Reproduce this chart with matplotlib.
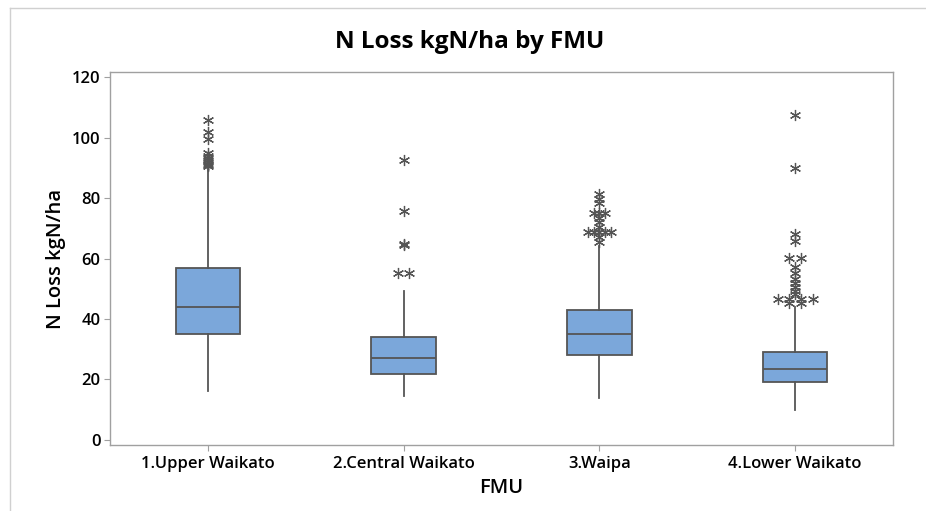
import matplotlib
matplotlib.use("Agg")
import matplotlib.pyplot as plt
from matplotlib.lines import Line2D
import numpy as np

# ---- data ----
categories = ["1.Upper Waikato", "2.Central Waikato", "3.Waipa", "4.Lower Waikato"]
q1 = [35.0, 21.9, 28.1, 19.3]
median = [44.0, 27.2, 35.0, 23.4]
q3 = [57.0, 34.1, 43.0, 29.0]
whisker_low = [16.2, 14.6, 13.8, 9.9]
whisker_high = [89.9, 49.3, 64.2, 44.1]

# outliers: value and how many tied points at that value
out1_vals = [106.0, 101.9, 99.5, 95.0, 94.0, 93.2, 92.5, 92.0, 91.5, 91.0, 90.6]
out1_cnt = [1, 1, 1, 1, 1, 1, 1, 1, 1, 1, 1]
out2_vals = [92.8, 75.9, 65.0, 64.4, 55.4]
out2_cnt = [1, 1, 1, 1, 2]
out3_vals = [81.3, 79.9, 78.5, 75.1, 73.6, 72.2, 70.5, 68.9, 67.2, 65.6]
out3_cnt = [1, 1, 1, 3, 1, 1, 1, 5, 1, 1]
out4_vals = [107.7, 90.0, 68.3, 66.0, 60.1, 57.3, 55.1, 53.4, 52.0, 50.5, 49.4, 48.2, 46.8, 45.2]
out4_cnt = [1, 1, 1, 1, 2, 1, 1, 1, 1, 1, 1, 1, 4, 2]

yticks = [0, 20, 40, 60, 80, 100, 120]

title = "N Loss kgN/ha by FMU"
xlabel = "FMU"
ylabel = "N Loss kgN/ha"

# ---- style ----
FONT = ["Open Sans", "DejaVu Sans"]
plt.rcParams["font.family"] = FONT
box_face = "#7BA7DA"
edge = "#555555"

fig = plt.figure(figsize=(9.26, 5.11), dpi=100)
ax = fig.add_axes([110 / 926, 1 - 445 / 511, (893 - 110) / 926, (445 - 72) / 511])

stats = []
for i, c in enumerate(categories):
    stats.append(dict(label=c, q1=q1[i], med=median[i], q3=q3[i],
                      whislo=whisker_low[i], whishi=whisker_high[i], fliers=[]))

positions = np.arange(1, len(categories) + 1)
ax.bxp(stats, positions=positions, widths=0.33, patch_artist=True,
       showcaps=False, showfliers=False,
       boxprops=dict(facecolor=box_face, edgecolor=edge, linewidth=1.3),
       medianprops=dict(color=edge, linewidth=1.3),
       whiskerprops=dict(color=edge, linewidth=1.3))

step = 0.03
for pos, vals, cnts in zip(positions,
                           [out1_vals, out2_vals, out3_vals, out4_vals],
                           [out1_cnt, out2_cnt, out3_cnt, out4_cnt]):
    xs, ys = [], []
    for v, n in zip(vals, cnts):
        sp = step if n % 2 == 1 else 2 * step
        for k in range(n):
            xs.append(pos + (k - (n - 1) / 2) * sp)
            ys.append(v)
    ax.plot(xs, ys, linestyle="none", marker=(6, 2, 0), markersize=8,
            markeredgewidth=0.9, color=edge)

ax.set_xlim(0.5, 4.5)
ax.set_ylim(-1.7, 121.8)
ax.set_yticks(yticks)
ax.set_xticks(positions)
ax.set_xticklabels(categories)

for s in ax.spines.values():
    s.set_color("#A0A0A0")
    s.set_linewidth(1.0)
ax.tick_params(axis="both", direction="out", length=4, width=0.8, color="#A0A0A0",
               labelsize=12, labelcolor="black")
for lab in ax.get_xticklabels() + ax.get_yticklabels():
    lab.set_fontweight("semibold")
ax.tick_params(axis="x", pad=4)
ax.tick_params(axis="y", pad=3)

ax.set_xlabel(xlabel, fontsize=14.5, fontweight="semibold", labelpad=4)
ax.set_ylabel(ylabel, fontsize=14.5, fontweight="semibold", labelpad=4)
fig.text(470 / 926, 1 - 42 / 511, title, ha="center", va="center",
         fontsize=17.5, fontweight="bold")

# figure frame lines (top and left)
fig.add_artist(Line2D([10 / 926, 1.0], [1 - 8 / 511, 1 - 8 / 511],
                      transform=fig.transFigure, color="#D0D0D0", linewidth=1.0))
fig.add_artist(Line2D([10 / 926, 10 / 926], [0.0, 1 - 8 / 511],
                      transform=fig.transFigure, color="#D0D0D0", linewidth=1.0))

fig.savefig("out.png", dpi=100)
